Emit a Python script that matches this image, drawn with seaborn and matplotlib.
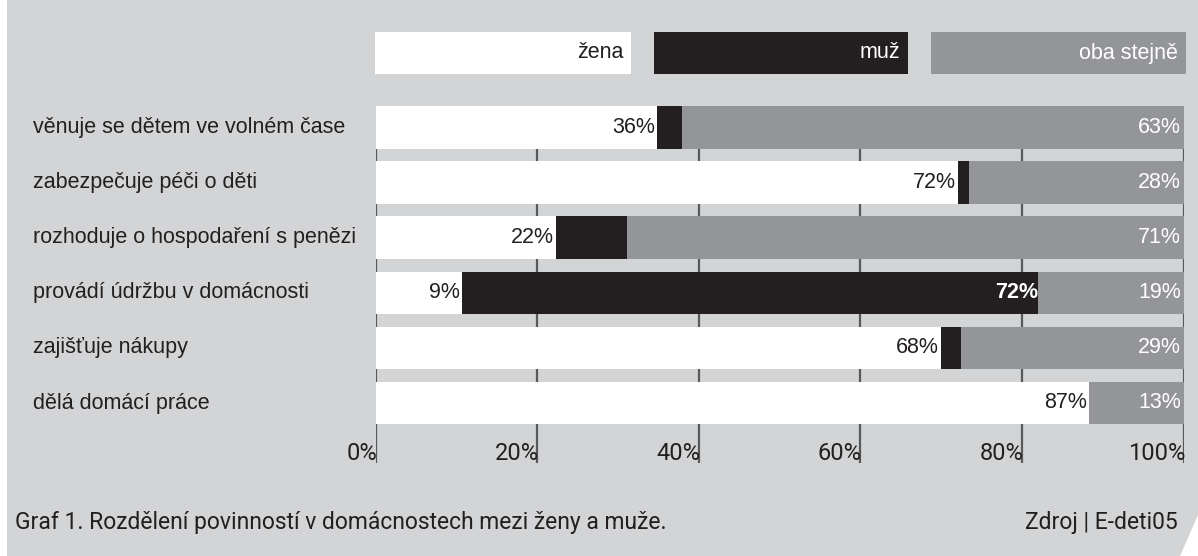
import numpy as np
import pandas as pd
import seaborn as sns
import matplotlib.pyplot as plt
from matplotlib.patches import Rectangle, Polygon
from matplotlib import font_manager

# data (bar lengths in %, printed labels separately)
categories = ['věnuje se dětem ve volném čase', 'zabezpečuje péči o děti',
              'rozhoduje o hospodaření s penězi', 'provádí údržbu v domácnosti',
              'zajišťuje nákupy', 'dělá domácí práce']
zena = [34.8, 72.1, 22.3, 10.7, 70.0, 88.3]
muz = [3.1, 1.4, 8.8, 71.3, 2.5, 0.0]
oba = [62.1, 26.5, 68.9, 18.0, 27.5, 11.7]
zena_labels = ['36%', '72%', '22%', '9%', '68%', '87%']
muz_labels = ['', '', '', '72%', '', '']
oba_labels = ['63%', '28%', '71%', '19%', '29%', '13%']
legend_names = ['žena', 'muž', 'oba stejně']
xticks = [0, 20, 40, 60, 80, 100]
xtick_labels = ['0%', '20%', '40%', '60%', '80%', '100%']
caption = 'Graf 1. Rozdělení povinností v domácnostech mezi ženy a muže.'
source = 'Zdroj | E-deti05'

BG = '#d3d4d6'
GRAY = '#939598'
BLACK = '#231f20'
GRID = '#58595b'
TEXT = '#231f20'

sns.set_style('white')
plt.rcParams['font.family'] = ['Liberation Sans', 'DejaVu Sans']

# face for axis ticks and caption (DIN-like in the original)
names = {f.name for f in font_manager.fontManager.ttflist}
din_kw = {'family': ['DejaVu Sans']}
for cand in ['Roboto', 'Open Sans']:
    if cand in names:
        din_kw = {'family': [cand, 'DejaVu Sans']}
        break

W, H = 1198, 556
fig = plt.figure(figsize=(W / 100, H / 100), dpi=100)
fig.patch.set_facecolor('white')
fig.add_artist(Rectangle((7 / W, 0), 1, 1, transform=fig.transFigure,
                         facecolor=BG, edgecolor='none', zorder=-10))
fig.add_artist(Polygon([(1.0, 1 - 515 / H), (1.0, 0), (1180 / W, 0)], closed=True,
                       transform=fig.transFigure, facecolor='white', edgecolor='none', zorder=-9))

# axes placed so 0..100 % spans the bar area
pitch = 55.1
top_px, bot_px = 100, 470
ax = fig.add_axes([375.5 / W, 1 - bot_px / H, 808 / W, (bot_px - top_px) / H])
ax.set_facecolor('none')

df = pd.DataFrame({'kategorie': categories, 'zena': zena, 'muz': muz, 'oba': oba})
df['zena_muz'] = df['zena'] + df['muz']
df['celkem'] = df['zena_muz'] + df['oba']

bw = 0.77
sns.barplot(data=df, y='kategorie', x='celkem', color=GRAY, width=bw, saturation=1,
            linewidth=0, errorbar=None, ax=ax, zorder=2)
sns.barplot(data=df, y='kategorie', x='zena_muz', color=BLACK, width=bw, saturation=1,
            linewidth=0, errorbar=None, ax=ax, zorder=3)
sns.barplot(data=df, y='kategorie', x='zena', color='white', width=bw, saturation=1,
            linewidth=0, errorbar=None, ax=ax, zorder=4)

# grid lines, visible between bars
y_bot = (463 - 127.5) / pitch
ax.vlines(xticks, bw / 2, y_bot, color=GRID, linewidth=1.6, zorder=1)

ax.set_xlim(0, 100)
ax.set_ylim((bot_px - 127.5) / pitch, -(127.5 - top_px) / pitch)
ax.set_xlabel('')
ax.set_ylabel('')
ax.set_xticks([])
ax.set_yticks([])
sns.despine(ax=ax, left=True, bottom=True)

fs = 15.5
for i in range(len(categories)):
    if zena_labels[i]:
        ax.text(zena[i] - 0.25, i, zena_labels[i], ha='right', va='center',
                fontsize=fs, color=TEXT, zorder=5)
    if muz_labels[i]:
        ax.text(zena[i] + muz[i], i, muz_labels[i], ha='right', va='center',
                fontsize=fs, color='white', fontweight='bold', zorder=5)
    ax.text(99.7, i, oba_labels[i], ha='right', va='center',
            fontsize=fs, color='white', zorder=5)
    # category label on the left
    fig.text(33 / W, 1 - (127.5 + i * pitch) / H, categories[i], ha='left', va='center',
             fontsize=fs, color=TEXT)

tick_y = (454 - 127.5) / pitch
for x, lab in zip(xticks, xtick_labels):
    ax.text(x + 0.2, tick_y, lab, ha='right', va='center', fontsize=17,
            color=TEXT, zorder=5, **din_kw)

# legend boxes at the top
boxes = [(375, 631, 'white', TEXT), (654, 908, BLACK, 'white'), (931, 1186, GRAY, 'white')]
for (x0, x1, fc, tc), name in zip(boxes, legend_names):
    fig.add_artist(Rectangle((x0 / W, 1 - 74 / H), (x1 - x0) / W, 42 / H,
                             transform=fig.transFigure, facecolor=fc, edgecolor='none'))
    fig.text((x1 - 8) / W, 1 - 53 / H, name, ha='right', va='center',
             fontsize=fs, color=tc)

fig.text(15 / W, 1 - 522 / H, caption, ha='left', va='center', fontsize=16.5,
         color=TEXT, **din_kw)
fig.text(1178 / W, 1 - 522 / H, source, ha='right', va='center', fontsize=16.5,
         color=TEXT, **din_kw)

fig.savefig('out.png', dpi=100, facecolor=fig.get_facecolor())
